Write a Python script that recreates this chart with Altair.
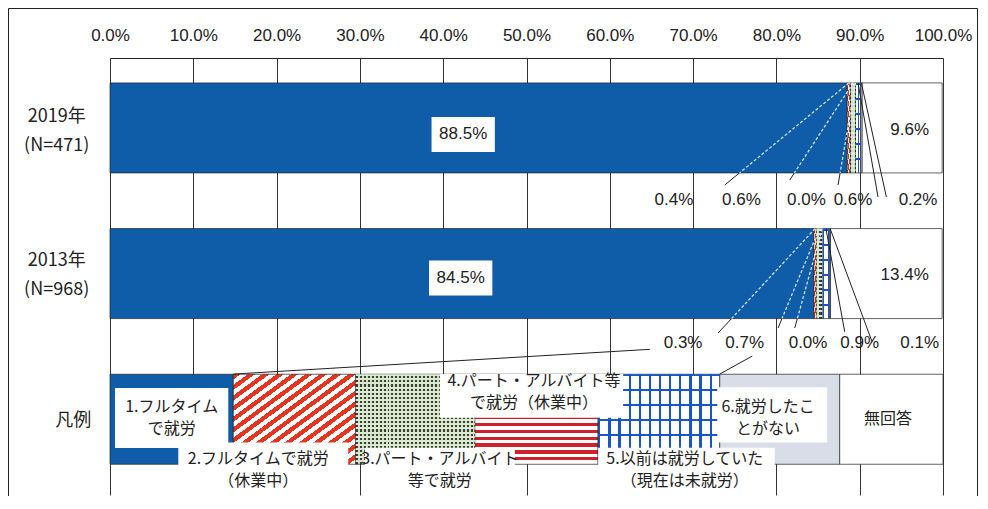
import altair as alt
import pandas as pd

# ---------------- data ----------------
row_labels = ["2019年\n(N=471)", "2013年\n(N=968)", "凡例"]
categories = ["1.フルタイムで就労", "2.フルタイムで就労（休業中）", "3.パート・アルバイト等で就労",
              "4.パート・アルバイト等で就労（休業中）", "5.以前は就労していた（現在は未就労）",
              "6.就労したことがない", "無回答"]
values_2019 = [88.5, 0.4, 0.6, 0.0, 0.6, 0.2, 9.6]
values_2013 = [84.5, 0.3, 0.7, 0.0, 0.9, 0.1, 13.4]
legend_widths = [14.8, 14.7, 14.3, 14.8, 14.6, 14.4, 12.4]
legend_texts = ["1.フルタイム\nで就労", "2.フルタイムで就労\n（休業中）", "3.パート・アルバイト\n等で就労",
                "4.パート・アルバイト等\nで就労（休業中）", "5.以前は就労していた\n（現在は未就労）",
                "6.就労したこ\nとがない", "無回答"]
tick_values = [0, 10, 20, 30, 40, 50, 60, 70, 80, 90, 100]

# ---------------- layout (x in %, y in row units; 1 row unit = 145.67 px) ----------------
PX = 1 / 145.67
BAR_HALF = 0.309
row_label_pos = [(-6.4, 0.028), (-6.4, 1.016), (-4.4, 2.01)]
big_label_pos = [(42.4, 0.045), (42.1, 1.03)]        # first segment labels (boxed)
last_label_pos = [(96.0, 0.015), (95.4, 1.01)]       # "no answer" labels
small_label_x = [[67.7, 75.8, 83.6, 89.2, 97.0], [68.8, 76.2, 83.8, 90.0, 97.2]]
small_label_y = [0.495, 1.476]
leader_ends = [[(73.8, 0.392), (81.6, 0.358), (87.4, 0.392), (92.2, 0.474), (93.2, 0.474)],
               [(73.0, 1.408), (80.2, 1.374), (82.2, 1.374), (88.2, 1.40), (91.5, 1.47)]]
extra_lines = [(14.8, 1.69, 64.8, 1.52), (73.2, 1.69, 77.1, 1.566)]
legend_text_pos = [(7.4, 1.99), (17.8, 2.345), (39.6, 2.345), (50.9, 1.81),
                   (69.0, 2.345), (79.0, 1.99), (93.4, 2.0)]
legend_boxes = [(0.6, 14.2, 1.785, 2.197), (8.2, 28.6, 2.16, 2.527), (30.6, 48.6, 2.195, 2.527),
                (39.6, 61.6, 1.69, 1.99), (58.6, 79.8, 2.195, 2.527), (72.9, 86.1, 1.78, 2.16)]
LEG_LH = 22
ROW_LH = 29

JP = "Noto Sans CJK JP"
NUM = "Liberation Sans"
BLUE = "#0F5DA9"
INK = "#222222"


def stripes(c1, c2, n, frac, x2, y2):
    stops = []
    for k in range(n):
        a, b, e = k / n, (k + frac) / n, (k + 1) / n
        stops += [{"offset": a, "color": c1}, {"offset": b, "color": c1},
                  {"offset": b, "color": c2}, {"offset": e, "color": c2}]
    return {"gradient": "linear", "x1": 0, "y1": 0, "x2": x2, "y2": y2, "stops": stops}


diag_red = stripes("#E5341F", "#FFFFFF", 17, 0.5, 1, 1)
hstripe_red = stripes("#D0202A", "#FFFFFF", 13, 0.45, 0, 1)
vstripe_blue = stripes("#1A55C8", "#FFFFFF", 12, 0.22, 1, 0)
hgrid_blue = stripes("#1A55C8", "rgba(255,255,255,0)", 6, 0.14, 0, 1)
dot_base = stripes("#3C3C3C", "#C9E2BC", 30, 0.5, 1, 0)
dot_over = stripes("#DCEAD2", "rgba(255,255,255,0)", 22, 0.5, 0, 1)
fills = [BLUE, diag_red, dot_base, hstripe_red, vstripe_blue, "#D9DDE8", "#FFFFFF"]
overlays = {2: dot_over, 4: hgrid_blue}

# ---------------- tables ----------------
recs = []
for r, vals in enumerate([values_2019, values_2013, legend_widths]):
    s = 0.0
    for c, v in enumerate(vals):
        recs.append({"row": r, "cat": c, "name": categories[c], "value": v,
                     "start": s, "end": s + v, "y0": r - BAR_HALF, "y1": r + BAR_HALF})
        s += v
bars = pd.DataFrame(recs)

xs = alt.Scale(domain=[0, 100], nice=False, zero=False)
ys = alt.Scale(domain=[-0.48, 2.52], reverse=True, nice=False, zero=False)

top_axis = alt.Axis(orient="top", values=tick_values, labelExpr="format(datum.value, '.1f') + '%'",
                    ticks=False, tickSize=0, domain=True, domainColor=INK, domainWidth=1,
                    grid=True, gridColor="#333333", gridWidth=1, labelFont=NUM, labelFontSize=17,
                    labelColor=INK, labelPadding=14, labelFlush=False, labelOverlap=False,
                    labelBound=False, title=None)


def X(f):
    return alt.X(f, type="quantitative", scale=xs, axis=top_axis)


def Y(f):
    return alt.Y(f, type="quantitative", scale=ys, axis=None)


layers = []
for c in range(7):
    layers.append(
        alt.Chart(bars).transform_filter(alt.datum.cat == c)
        .mark_rect(fill=fills[c], stroke=INK, strokeWidth=0.7)
        .encode(x=X("start"), x2=alt.X2("end"), y=Y("y0"), y2=alt.Y2("y1"))
    )
for c, g in overlays.items():
    layers.append(
        alt.Chart(bars).transform_filter(alt.datum.cat == c)
        .mark_rect(fill=g, strokeWidth=0)
        .encode(x=X("start"), x2=alt.X2("end"), y=Y("y0"), y2=alt.Y2("y1"))
    )

# leader lines
white_segs, black_segs = [], []
for r, vals in enumerate([values_2019, values_2013]):
    cum = 0.0
    mids = []
    for v in vals:
        mids.append(cum + v / 2)
        cum += v
    blue_end = vals[0]
    for i in range(5):
        sx, sy = mids[i + 1], r - BAR_HALF
        ex, ey = leader_ends[r][i]
        by = r + BAR_HALF
        t = (by - sy) / (ey - sy)
        cx = sx + t * (ex - sx)
        seg = {"x": sx, "y": sy, "x2": cx, "y2": by}
        (white_segs if cx < blue_end else black_segs).append(seg)
        black_segs.append({"x": cx, "y": by, "x2": ex, "y2": ey})
for (a, b, c2, d) in extra_lines:
    black_segs.append({"x": a, "y": b, "x2": c2, "y2": d})

layers.append(alt.Chart(pd.DataFrame(white_segs)).mark_rule(color="#DDE8F5", strokeWidth=1.2, strokeDash=[3, 2])
              .encode(x=X("x"), y=Y("y"), x2=alt.X2("x2"), y2=alt.Y2("y2")))
layers.append(alt.Chart(pd.DataFrame(black_segs)).mark_rule(color=INK, strokeWidth=1)
              .encode(x=X("x"), y=Y("y"), x2=alt.X2("x2"), y2=alt.Y2("y2")))

# legend boxes and texts (multi-line blocks: y is the block centre, shift to first line)
boxes = pd.DataFrame([{"x": a, "x2": b, "y": c, "y2": d} for a, b, c, d in legend_boxes])
layers.append(alt.Chart(boxes).mark_rect(fill="white", strokeWidth=0)
              .encode(x=X("x"), x2=alt.X2("x2"), y=Y("y"), y2=alt.Y2("y2")))
ltxt = pd.DataFrame([{"x": p[0], "y": p[1] - (t.count("\n")) * LEG_LH * PX / 2, "t": t}
                     for p, t in zip(legend_text_pos, legend_texts)])
layers.append(alt.Chart(ltxt).mark_text(lineBreak="\n", font=JP, fontSize=16, lineHeight=LEG_LH, color=INK,
                                        align="center", baseline="middle")
              .encode(x=X("x"), y=Y("y"), text="t:N"))

# big labels
big = pd.DataFrame([{"x": p[0], "y": p[1], "t": f"{v[0]:.1f}%"}
                    for p, v in zip(big_label_pos, [values_2019, values_2013])])
layers.append(alt.Chart(big).transform_calculate(xa="datum.x - 3.8", xb="datum.x + 3.8",
                                                 ya="datum.y - 0.12", yb="datum.y + 0.12")
              .mark_rect(fill="white", strokeWidth=0)
              .encode(x=X("xa:Q"), x2=alt.X2("xb:Q"), y=Y("ya:Q"), y2=alt.Y2("yb:Q")))
layers.append(alt.Chart(big).mark_text(font=NUM, fontSize=17, color=INK, align="center", baseline="middle")
              .encode(x=X("x"), y=Y("y"), text="t:N"))
last = pd.DataFrame([{"x": p[0], "y": p[1], "t": f"{v[6]:.1f}%"}
                     for p, v in zip(last_label_pos, [values_2019, values_2013])])
layers.append(alt.Chart(last).mark_text(font=NUM, fontSize=17, color=INK, align="center", baseline="middle")
              .encode(x=X("x"), y=Y("y"), text="t:N"))

# small labels
small = []
for r, vals in enumerate([values_2019, values_2013]):
    for i in range(5):
        small.append({"x": small_label_x[r][i], "y": small_label_y[r], "t": f"{vals[i + 1]:.1f}%"})
layers.append(alt.Chart(pd.DataFrame(small)).mark_text(font=NUM, fontSize=17, color=INK, align="center",
                                                      baseline="middle")
              .encode(x=X("x"), y=Y("y"), text="t:N"))

# row labels
rl = pd.DataFrame([{"x": p[0], "y": p[1] - (t.count("\n")) * ROW_LH * PX / 2, "t": t}
                   for p, t in zip(row_label_pos, row_labels)])
layers.append(alt.Chart(rl).mark_text(lineBreak="\n", font=JP, fontSize=18, lineHeight=ROW_LH, color=INK,
                                      align="center", baseline="middle")
              .encode(x=X("x"), y=Y("y"), text="t:N"))

# outer frame of the chart area
one = pd.DataFrame({"k": [0]})
layers.append(alt.Chart(one).mark_rule(color=INK, strokeWidth=1)
              .encode(x=alt.value(-101.5), y=alt.value(-49.5), y2=alt.value(440)))
layers.append(alt.Chart(one).mark_rule(color=INK, strokeWidth=1)
              .encode(x=alt.value(-101.5), x2=alt.value(867.5), y=alt.value(-49.5)))
layers.append(alt.Chart(one).mark_rule(color=INK, strokeWidth=1)
              .encode(x=alt.value(867.5), y=alt.value(-49.5), y2=alt.value(440)))

chart = alt.layer(*layers).properties(
    width=833, height=437,
    autosize=alt.AutoSizeParams(type="none"),
    padding={"left": 102, "top": 50, "right": 35, "bottom": 1},
    background="white",
).configure_view(strokeWidth=0)

chart.save("out.html", embed_options={"renderer": "svg", "actions": False})
